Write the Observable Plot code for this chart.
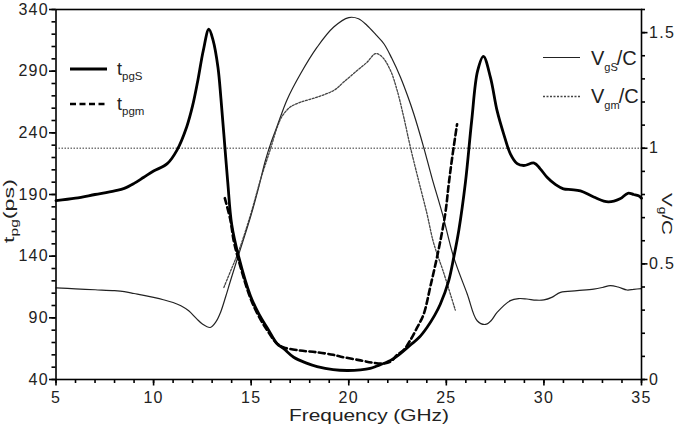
<!DOCTYPE html>
<html>
<head>
<meta charset="utf-8">
<script src="https://cdn.jsdelivr.net/npm/d3@7"></script>
<script src="https://cdn.jsdelivr.net/npm/@observablehq/plot@0.6"></script>
<style>
  html, body { margin: 0; padding: 0; background: #fff; }
  #chart { width: 679px; height: 426px; overflow: hidden; }
  #chart svg { display: block; }
  #chart g[aria-label$="tick label"] text { letter-spacing: 1.3px; }
</style>
</head>
<body>
<div id="chart"></div>
<script>
// Group delay t_pg (ps) of the structure, [frequency GHz, delay ps]
const tpgS = [
  [5,185],[6,187],[7,190],[8,193],[8.5,195],[9,199],[9.5,204],[10,209],[10.7,215],[11.2,226],
  [11.7,245],[12.0,262],[12.25,281],[12.55,307],[12.83,324],[13.05,315],[13.3,293],[13.45,268],
  [13.6,239],[13.8,200],[14.0,166],[14.37,139],[14.96,108],[15.4,93],[15.82,82],[16.33,69],
  [16.67,65],[17.18,58],[17.8,53.5],[18.38,50.5],[19.2,48],[19.92,47.3],[20.6,47.8],[21.1,49],
  [21.45,51],[22.14,55.5],[22.48,59],[23.16,68],[23.6,74],[24.0,82],[24.4,92],[24.69,101],
  [25.12,120],[25.38,139],[25.64,161],[25.98,200],[26.3,250],[26.6,290],[26.9,302],[27.26,285],
  [27.6,258],[27.94,239],[28.28,223],[28.63,215],[28.97,213.5],[29.5,215.5],[29.8,211],[30.16,204],
  [30.6,198],[31.0,194.6],[31.4,194],[31.87,193],[32.55,188],[33.3,184],[33.9,186.5],[34.3,191],
  [34.6,190],[34.85,189],[35,187]
];
// Group delay from the model, [frequency GHz, delay ps]
const tpgm = [
  [13.65,187],[13.94,169],[14.1,153],[14.37,136],[14.96,106],[15.4,91],[15.82,80],[16.33,69],
  [16.67,66],[17.5,63.5],[18.4,62],[19.2,60],[19.6,58.5],[20.6,55.5],[21.28,53.5],[21.8,53],
  [22.14,54.5],[22.48,60],[22.82,64],[23.16,72],[23.5,82],[23.84,93],[24.19,116],[24.6,145],
  [24.95,175],[25.12,198],[25.3,220],[25.55,247]
];
// Normalised group velocity v_g/c, [frequency GHz, v/c]
const vgS = [
  [5,0.396],[6,0.392],[7,0.388],[8,0.384],[8.5,0.38],[9,0.372],[9.5,0.364],[10,0.355],[10.5,0.345],
  [11,0.333],[11.4,0.319],[11.8,0.297],[12.2,0.263],[12.5,0.24],[12.9,0.225],[13.2,0.25],[13.43,0.29],
  [13.7,0.36],[13.94,0.427],[14.37,0.543],[14.96,0.701],[15.35,0.82],[15.73,0.947],[16.0,1.02],
  [16.33,1.095],[16.84,1.21],[17.53,1.322],[18.38,1.437],[19.23,1.524],[20.0,1.565],[20.5,1.56],
  [20.94,1.531],[21.4,1.49],[21.8,1.452],[22.2,1.39],[22.65,1.307],[23.0,1.23],[23.33,1.149],
  [23.84,1.004],[24.27,0.87],[24.8,0.716],[25.38,0.528],[26.07,0.37],[26.58,0.254],[27.0,0.238],
  [27.3,0.255],[27.6,0.29],[28.28,0.341],[28.7,0.35],[29.13,0.348],[29.6,0.343],[30.0,0.344],
  [30.4,0.355],[30.85,0.377],[31.7,0.384],[32.55,0.391],[33.0,0.398],[33.4,0.406],[33.8,0.4],
  [34.26,0.387],[34.6,0.39],[35,0.393]
];
const vgm = [
  [13.6,0.398],[14.0,0.48],[14.37,0.557],[14.96,0.71],[15.5,0.87],[16.0,1.0],[16.33,1.09],[16.6,1.14],
  [17.0,1.178],[17.53,1.199],[18.38,1.221],[19.23,1.25],[19.74,1.286],[20.43,1.336],[20.94,1.372],
  [21.37,1.409],[21.71,1.395],[22.14,1.336],[22.48,1.25],[22.82,1.134],[23.16,1.004],[23.58,0.86],
  [24.0,0.72],[24.35,0.59],[24.87,0.46],[25.46,0.3]
];
// Reference level v_g/c = 1
const vRef = [1];

// Axis ticks
const xMajor = [5, 10, 15, 20, 25, 30, 35];
const xMinor = d3.range(5, 35.01, 1);
const tMajor = [40, 90, 140, 190, 240, 290, 340];
const tMinor = d3.range(40, 340.01, 10);
const vMajor = [0, 0.5, 1, 1.5];
const vMinor = d3.range(0, 1.601, 0.1);

// The right-hand scale (v/c, 0..1.6) shares the plot's y scale (t, 40..340)
const T0 = 40, T1 = 340, V1 = 1.6;
const toT = v => T0 + v * (T1 - T0) / V1;
const toV = t => (t - T0) * V1 / (T1 - T0);

const W = 679, H = 426, ML = 55.5, MR = 38, MT = 9, MB = 47;
const FW = W - ML - MR, FH = H - MT - MB;   // frame size
const MAJ = 6.5, MIN = 4;                   // outward tick lengths

const font = "'Liberation Sans', Arial, Helvetica, sans-serif";
const ink = "#222";
const tick = { stroke: "#000", strokeWidth: 1.6 };

const chart = Plot.plot({
  width: W,
  height: H,
  marginLeft: ML,
  marginRight: MR,
  marginTop: MT,
  marginBottom: MB,
  style: { fontFamily: font, fontSize: "16px", color: ink, background: "#fff" },
  x: { domain: [5, 35], label: null },
  y: { domain: [T0, T1], label: null },
  marks: [
    Plot.ruleY(vRef, { y: d => toT(d), stroke: "#777", strokeWidth: 1.5, strokeDasharray: "1.5,1.5" }),
    Plot.line(vgS, { x: d => d[0], y: d => toT(d[1]), stroke: "#222", strokeWidth: 1.2, curve: "catmull-rom" }),
    Plot.line(vgm, { x: d => d[0], y: d => toT(d[1]), stroke: "#444", strokeWidth: 1.3, strokeDasharray: "2,1.5", curve: "catmull-rom" }),
    Plot.line(tpgm, { x: d => d[0], y: d => d[1], stroke: "#000", strokeWidth: 2.6, strokeDasharray: "6,3.5", curve: "catmull-rom" }),
    Plot.line(tpgS, { x: d => d[0], y: d => d[1], stroke: "#000", strokeWidth: 2.8, curve: "catmull-rom" }),
    Plot.frame({ stroke: "#000", strokeWidth: 1.6 }),
    // outward tick marks: bottom, left, right
    Plot.tickX(xMinor, { x: d => d, insetTop: FH, insetBottom: -MIN, ...tick }),
    Plot.tickX(xMajor, { x: d => d, insetTop: FH, insetBottom: -MAJ, ...tick }),
    Plot.tickY(tMinor, { y: d => d, insetRight: FW, insetLeft: -MIN, ...tick }),
    Plot.tickY(tMajor, { y: d => d, insetRight: FW, insetLeft: -MAJ, ...tick }),
    Plot.tickY(vMinor, { y: d => toT(d), insetLeft: FW, insetRight: -MIN, ...tick }),
    Plot.tickY(vMajor, { y: d => toT(d), insetLeft: FW, insetRight: -MAJ, ...tick }),
    // tick labels
    Plot.axisX({ ticks: xMajor, tickSize: 0, tickPadding: 12.5, fill: ink, fontSize: 16, label: null }),
    Plot.axisY({ ticks: tMajor, tickSize: 0, tickPadding: 7, fill: ink, fontSize: 16, label: null }),
    Plot.axisY({ anchor: "right", ticks: vMajor.map(toT), tickSize: 0, tickPadding: 7.5,
      tickFormat: t => d3.format("~g")(+toV(t).toFixed(2)), fill: ink, fontSize: 16, label: null })
  ]
});

document.getElementById("chart").appendChild(chart);

const svg = d3.select(chart);

// Text with a subscript: parts = [[text, size, baselineShift, dx], ...]
function richText(g, parts, attrs) {
  const t = g.append("text").attr("font-family", font).attr("fill", ink).attr("text-anchor", "start");
  for (const [k, v] of Object.entries(attrs)) t.attr(k, v);
  let shift = 0;
  for (const [s, size, dy, dx] of parts) {
    t.append("tspan").attr("font-size", size).attr("dy", dy - shift).attr("dx", dx || 0).text(s);
    shift = dy;
  }
  return t;
}

const labels = svg.append("g");

// Axis titles
richText(labels, [["t", 15, 0], ["pg", 10, 4], ["(ps)", 15, 0]],
  { transform: "translate(14,211) rotate(-90)", "text-anchor": "middle", textLength: 64, lengthAdjust: "spacingAndGlyphs" });
richText(labels, [["V", 15, 0], ["g", 10, 3], ["/C", 15, 0]],
  { transform: "translate(662,214) rotate(90)", "text-anchor": "middle", textLength: 42, lengthAdjust: "spacingAndGlyphs" });
richText(labels, [["Frequency (GHz)", 17, 0]],
  { x: 369, y: 421, "text-anchor": "middle", textLength: 160, lengthAdjust: "spacingAndGlyphs" });

// Legends
const leg = svg.append("g");
leg.append("line").attr("x1", 70).attr("x2", 107).attr("y1", 69).attr("y2", 69)
  .attr("stroke", "#000").attr("stroke-width", 2.8);
richText(leg, [["t", 18, 0], ["pgS", 11.5, 5]], { x: 117, y: 75 });
leg.append("line").attr("x1", 70).attr("x2", 107).attr("y1", 104).attr("y2", 104)
  .attr("stroke", "#000").attr("stroke-width", 2.6).attr("stroke-dasharray", "6,3.5");
richText(leg, [["t", 18, 0], ["pgm", 11.5, 5]], { x: 117, y: 110 });

leg.append("line").attr("x1", 543).attr("x2", 580).attr("y1", 57.5).attr("y2", 57.5)
  .attr("stroke", "#222").attr("stroke-width", 1.2);
richText(leg, [["V", 20, 0], ["gS", 11, 6], ["/C", 20, 0, -1]], { x: 591, y: 65 });
leg.append("line").attr("x1", 543).attr("x2", 580).attr("y1", 96.5).attr("y2", 96.5)
  .attr("stroke", "#444").attr("stroke-width", 1.3).attr("stroke-dasharray", "2,1.5");
richText(leg, [["V", 20, 0], ["gm", 11, 6], ["/C", 20, 0, -1]], { x: 591, y: 103 });
</script>
</body>
</html>
